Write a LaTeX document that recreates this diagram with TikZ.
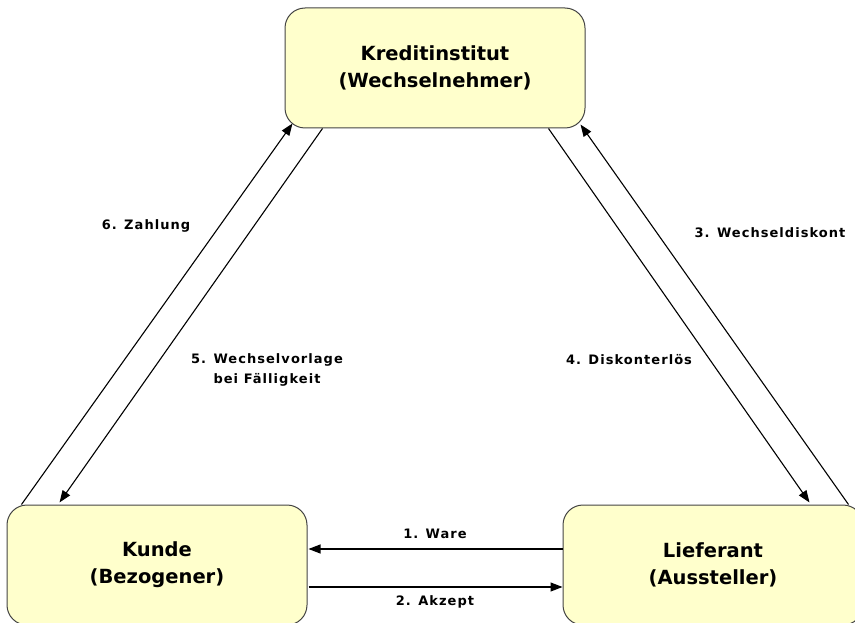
\documentclass[tikz,border=0pt]{standalone}
\usepackage{fontspec}
\setmainfont{DejaVu Sans}
\newfontfamily\spacedsans[LetterSpace=8]{DejaVu Sans}
\usetikzlibrary{calc,arrows.meta}
\definecolor{boxfill}{HTML}{FFFFCC}
\definecolor{boxline}{HTML}{444444}
\tikzset{
  party/.style={draw=boxline, fill=boxfill, line width=1pt, rounded corners=20pt,
    minimum width=300pt, minimum height=120pt, align=center,
    font=\fontsize{19.5}{27}\selectfont\bfseries},
  flow/.style={line width=1.1pt, -{Triangle[length=12pt,width=9pt]}},
  lbl/.style={font=\spacedsans\fontsize{13}{20}\selectfont\bfseries, align=center}
}
\begin{document}
\begin{tikzpicture}[x=1pt,y=-1pt]
\useasboundingbox (0,0) rectangle (855,623);
\clip (0,0) rectangle (855,623);

% the three parties
\node[party] (kr) at (435,68) {Kreditinstitut\\(Wechselnehmer)};
\node[party] (ku) at (157,565) {Kunde\\(Bezogener)};
\node[party] (li) at (713,565) {Lieferant\\(Aussteller)};

% flows between them
\draw[flow] ($(li.west)+(0,-16)$) -- ($(ku.east)+(1,-16)$);
\draw[flow] ($(ku.east)+(1,22)$) -- ($(li.west)+(0,22)$);
\draw[flow] ($(li.north east)+(-15,0)$) -- ($(kr.south east)+(-5,-4)$);
\draw[flow] ($(kr.south east)+(-37,0)$) -- ($(li.north west)+(247,-2)$);
\draw[flow] ($(kr.south west)+(38,0)$) -- ($(ku.north west)+(53,-2)$);
\draw[flow] ($(ku.north west)+(15,0)$) -- ($(kr.south west)+(8,-5)$);

% flow labels
\node[lbl] (l1) at (435,534) {1. Ware};
\node[lbl] (l2) at (435,602) {2. Akzept};
\node[lbl] (l3) at (770,233) {3. Wechseldiskont};
\node[lbl] (l4) at (629,360) {4. Diskonterlös};
\node[lbl] (l5) at (267,370) {5. Wechselvorlage\\bei Fälligkeit};
\node[lbl] (l6) at (146,226) {6. Zahlung};
\end{tikzpicture}
\end{document}
